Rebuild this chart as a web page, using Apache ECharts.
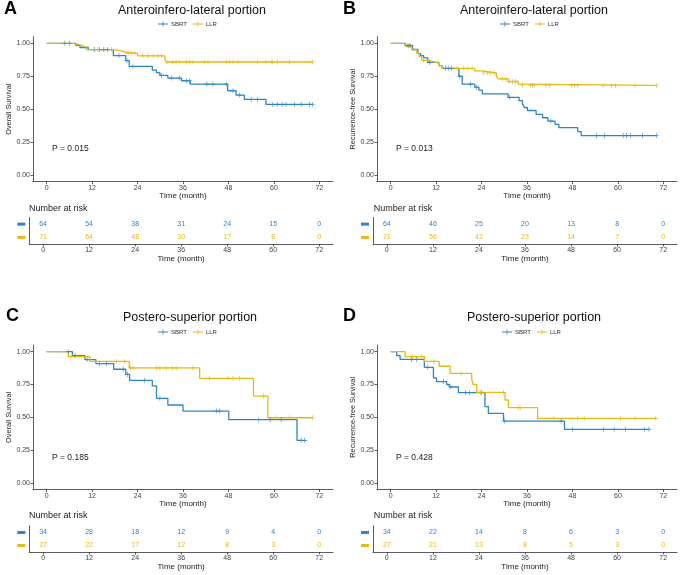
<!DOCTYPE html>
<html><head><meta charset="utf-8">
<script src="https://cdn.jsdelivr.net/npm/echarts@6/dist/echarts.min.js"></script>
<style>html,body{margin:0;padding:0;background:#fff}#c{width:685px;height:575px}</style>
</head><body><div id="c"></div>
<script>
const BLUE = '#2F86C6', YELLOW = '#E7BA12';
const groups = ['SBRT', 'LLR'];
const xTicks = [0, 12, 24, 36, 48, 60, 72];
const yTicks = [0, 0.25, 0.5, 0.75, 1];
const riskTimes = [0, 12, 24, 36, 48, 60, 72];
const titles = ['Anteroinfero-lateral portion', 'Anteroinfero-lateral portion', 'Postero-superior portion', 'Postero-superior portion'];
const letters = ['A', 'B', 'C', 'D'];
const yNames = ['Overall Survival', 'Recurrence-free Survival', 'Overall Survival', 'Recurrence-free Survival'];
const pValues = ['P = 0.015', 'P = 0.013', 'P = 0.185', 'P = 0.428'];

// Panel A: overall survival, anteroinfero-lateral
const A_SBRT_t = [0, 7.7, 8.8, 11, 17.6, 20.9, 21.8, 27.9, 29, 29.9, 32, 35.6, 37.9, 47.8, 50, 52.2, 57.9];
const A_SBRT_s = [1, 0.984, 0.968, 0.952, 0.907, 0.868, 0.825, 0.797, 0.777, 0.756, 0.736, 0.716, 0.69, 0.64, 0.607, 0.574, 0.536];
const A_SBRT_c = [4.8, 6.0, 12.7, 14, 15.1, 16.1, 19.1, 21.2, 22.8, 30.3, 32.9, 35.1, 36.9, 37.8, 42.3, 43.9, 47.4, 49.2, 50.9, 54, 55.7, 59.7, 61, 62.2, 63.2, 65.4, 67.2, 69.4, 70.2];
const A_SBRT_end = 70.2;
const A_LLR_t = [0, 7, 9, 10.5, 17.8, 20.2, 21, 24, 31.2, 31.6];
const A_LLR_s = [1, 0.986, 0.971, 0.952, 0.938, 0.93, 0.923, 0.905, 0.88, 0.858];
const A_LLR_c = [12.5, 13.5, 17.1, 21.5, 22.5, 23.3, 25.4, 26.8, 28.1, 29.4, 30.3, 32, 33.3, 34.2, 35.1, 36.9, 37.8, 38.6, 41.7, 42.6, 47.4, 48.3, 49.2, 50.5, 55.7, 57.9, 59.3, 59.7, 61, 64.1, 70.2];
const A_LLR_end = 70.2;
const A_risk_SBRT = [64, 54, 38, 31, 24, 15, 0];
const A_risk_LLR = [71, 64, 48, 30, 17, 8, 0];

// Panel B: recurrence-free survival, anteroinfero-lateral
const B_SBRT_t = [0, 3.8, 5.8, 7.2, 7.9, 8.7, 9.8, 12.7, 13.6, 18.0, 18.9, 22.2, 23.3, 24.2, 31, 33.9, 34.8, 35.3, 36.1, 38.4, 40.1, 41.5, 43.4, 44.4, 49.4, 50.3];
const B_SBRT_s = [1, 0.984, 0.953, 0.922, 0.906, 0.89, 0.855, 0.83, 0.81, 0.75, 0.69, 0.667, 0.645, 0.617, 0.59, 0.565, 0.54, 0.513, 0.49, 0.46, 0.435, 0.41, 0.385, 0.36, 0.33, 0.30];
const B_SBRT_c = [4.6, 5.1, 10.2, 14.5, 15.2, 16, 18.2, 21.1, 22.6, 31.4, 42.3, 54.3, 56.5, 61.4, 62.3, 63.3, 66.5, 70.2];
const B_SBRT_end = 70.2;
const B_LLR_t = [0, 4, 5.6, 6.9, 7.6, 8.2, 10, 11.3, 12.7, 13.6, 22.2, 24, 27.9, 28.4, 31, 33.7, 34.4];
const B_LLR_s = [1, 0.975, 0.95, 0.925, 0.90, 0.87, 0.86, 0.85, 0.83, 0.81, 0.79, 0.775, 0.75, 0.73, 0.71, 0.69, 0.68];
const B_LLR_c = [8.7, 17.5, 19.3, 20.4, 21.5, 24.6, 25.5, 26.4, 27.3, 29.5, 30.4, 31.3, 32.2, 33, 34.8, 37, 37.5, 37.9, 41, 41.9, 47.7, 48.5, 49.4, 56.1, 58.3, 59.4, 64.5, 70.2];
const B_LLR_end = 70.2;
const B_risk_SBRT = [64, 46, 25, 20, 13, 8, 0];
const B_risk_LLR = [71, 56, 42, 23, 14, 7, 0];

// Panel C: overall survival, postero-superior
const C_SBRT_t = [0, 6.8, 10.1, 13, 17.7, 20.9, 21.9, 27.9, 29, 32, 36, 48.1, 66.1];
const C_SBRT_s = [1, 0.97, 0.94, 0.909, 0.866, 0.827, 0.782, 0.739, 0.645, 0.594, 0.548, 0.482, 0.325];
const C_SBRT_c = [5.7, 7.5, 10.7, 14, 15.8, 20.2, 21.3, 25.9, 29.9, 44.8, 45.7, 56, 59, 61.9, 67.2, 68.1];
const C_SBRT_end = 68.3;
const C_LLR_t = [0, 5.7, 11.4, 21.8, 40.4, 54.6, 58.4];
const C_LLR_s = [1, 0.963, 0.926, 0.876, 0.797, 0.662, 0.497];
const C_LLR_c = [6.3, 8.8, 18.4, 20.6, 22.1, 22.8, 29, 29.9, 31.6, 33.2, 34.2, 38.6, 43, 47.9, 49.2, 50.9, 57.2, 60.6, 64.1, 70.2];
const C_LLR_end = 70.2;
const C_risk_SBRT = [34, 28, 18, 12, 9, 4, 0];
const C_risk_LLR = [27, 22, 17, 12, 8, 3, 0];

// Panel D: recurrence-free survival, postero-superior
const D_SBRT_t = [0, 1.6, 2.5, 8.9, 11.3, 12.1, 14.8, 15.5, 17.9, 24.9, 25.8, 29.8, 45.9];
const D_SBRT_s = [1, 0.971, 0.941, 0.881, 0.80, 0.772, 0.75, 0.731, 0.688, 0.581, 0.53, 0.472, 0.409];
const D_SBRT_c = [5.5, 6.9, 9.8, 13.9, 15.9, 19.8, 20.9, 24, 30, 45, 48, 56.2, 59, 62, 67, 68.2];
const D_SBRT_end = 68.2;
const D_LLR_t = [0, 3.8, 8.9, 12.8, 15.7, 21.4, 21.8, 22.7, 30.2, 31.1, 38.8];
const D_LLR_s = [1, 0.963, 0.926, 0.889, 0.835, 0.79, 0.75, 0.69, 0.632, 0.574, 0.492];
const D_LLR_c = [5.8, 8.2, 11.4, 18.6, 23.8, 29.8, 33.7, 34.2, 43.1, 49.4, 51.1, 60.7, 64.5, 70];
const D_LLR_end = 70.2;
const D_risk_SBRT = [34, 22, 14, 8, 6, 3, 0];
const D_risk_LLR = [27, 21, 13, 8, 5, 3, 0];

const curves = [
  [[A_SBRT_t, A_SBRT_s, A_SBRT_c, A_SBRT_end], [A_LLR_t, A_LLR_s, A_LLR_c, A_LLR_end]],
  [[B_SBRT_t, B_SBRT_s, B_SBRT_c, B_SBRT_end], [B_LLR_t, B_LLR_s, B_LLR_c, B_LLR_end]],
  [[C_SBRT_t, C_SBRT_s, C_SBRT_c, C_SBRT_end], [C_LLR_t, C_LLR_s, C_LLR_c, C_LLR_end]],
  [[D_SBRT_t, D_SBRT_s, D_SBRT_c, D_SBRT_end], [D_LLR_t, D_LLR_s, D_LLR_c, D_LLR_end]]
];
const risks = [[A_risk_SBRT, A_risk_LLR], [B_risk_SBRT, B_risk_LLR], [C_risk_SBRT, C_risk_LLR], [D_risk_SBRT, D_risk_LLR]];

// layout (pixels)
const layout = [
  {km: {left: 33, top: 36.7, width: 300, height: 145}, tb: {left: 29.3, top: 217.5, width: 303.7, height: 26.5}, letter: [4, 9], title: [192, 10.5], legend: [158, 21], p: [52, 148.7], nar: [29, 208.3]},
  {km: {left: 377, top: 36.7, width: 300, height: 145}, tb: {left: 373, top: 217.5, width: 304, height: 26.5}, letter: [343, 9], title: [534, 10.5], legend: [500, 21], p: [396, 148.7], nar: [373.7, 208.3]},
  {km: {left: 33, top: 345.1, width: 300, height: 144.5}, tb: {left: 29.3, top: 526, width: 303.7, height: 26}, letter: [6, 316.5], title: [190, 318], legend: [158, 329], p: [52, 457.7], nar: [29, 516]},
  {km: {left: 377, top: 345.1, width: 300, height: 144.5}, tb: {left: 373, top: 526, width: 304, height: 26}, letter: [343, 316.5], title: [534, 318], legend: [502, 329], p: [396, 457.7], nar: [373.7, 516]}
];

const colors = [BLUE, YELLOW];
const PLUS = 'path://M0,4.4h10v1.2h-10z M4.4,0h1.2v10h-1.2z';
const LEG_ICON = 'path://M0,4.2h20v1.6h-20z M9.2,0h1.6v10h-1.6z';
const AX = '#333';
const TXT = '#444';

function stepAt(t, s, x) { let v = s[0]; for (let i = 0; i < t.length; i++) if (t[i] <= x) v = s[i]; return v; }

const grid = [], xAxis = [], yAxis = [], series = [], legend = [], graphic = [];
layout.forEach((L, p) => {
  grid.push(Object.assign({}, L.km));
  grid.push(Object.assign({}, L.tb));
  const gk = p * 2, gt = p * 2 + 1;
  const xCommon = {
    type: 'value', min: -3.6, max: 75.6,
    axisLine: {show: true, onZero: false, lineStyle: {color: AX, width: 0.8}},
    axisTick: {show: true, length: 2.5, customValues: xTicks, lineStyle: {color: AX, width: 0.8}},
    axisLabel: {customValues: xTicks, fontSize: 7, color: TXT, margin: 2.5, fontFamily: 'Liberation Sans'},
    splitLine: {show: false},
    name: 'Time (month)', nameLocation: 'middle', nameGap: 10.5,
    nameTextStyle: {fontSize: 8, color: '#222', fontFamily: 'Liberation Sans'}
  };
  xAxis.push(Object.assign({gridIndex: gk}, xCommon));
  xAxis.push(Object.assign({gridIndex: gt}, xCommon, {nameGap: 10}));
  yAxis.push({
    gridIndex: gk, type: 'value', min: -0.05, max: 1.05,
    axisLine: {show: true, onZero: false, lineStyle: {color: AX, width: 0.8}},
    axisTick: {show: true, length: 2.5, customValues: yTicks, lineStyle: {color: AX, width: 0.8}},
    axisLabel: {customValues: yTicks, fontSize: 7, color: TXT, margin: 3, formatter: v => v.toFixed(2), fontFamily: 'Liberation Sans'},
    splitLine: {show: false},
    name: yNames[p], nameLocation: 'middle', nameRotate: 90, nameGap: 17,
    nameTextStyle: {fontSize: 7.3, color: '#222', fontFamily: 'Liberation Sans'}
  });
  yAxis.push({
    gridIndex: gt, type: 'category', data: ['LLR', 'SBRT'],
    axisLine: {show: true, onZero: false, lineStyle: {color: AX, width: 0.8}},
    axisTick: {show: false},
    axisLabel: {interval: 0, margin: 4, formatter: v => v === 'SBRT' ? '{b|}' : '{y|}',
      rich: {b: {backgroundColor: BLUE, width: 8, height: 3}, y: {backgroundColor: YELLOW, width: 8, height: 3}}},
    splitLine: {show: false}
  });
  curves[p].forEach((c, k) => {
    const [t, s, cen, end] = c;
    const d = t.map((x, i) => [x, s[i]]);
    d.push([end, s[s.length - 1]]);
    series.push({
      name: groups[k], type: 'line', xAxisIndex: gk, yAxisIndex: gk, data: d, step: 'end',
      symbol: 'none', color: colors[k], lineStyle: {color: colors[k], width: 1.3}, silent: true, animation: false, z: 2 + k
    });
  });
  curves[p].forEach((c, k) => {
    const [t, s, cen] = c;
    series.push({
      name: groups[k] + ' censored', type: 'scatter', xAxisIndex: gk, yAxisIndex: gk,
      data: cen.map(x => [x, stepAt(t, s, x)]), symbol: PLUS, symbolSize: 5,
      itemStyle: {color: colors[k], opacity: 1}, silent: true, animation: false, z: 4 + k
    });
  });
  risks[p].forEach((r, k) => {
    series.push({
      name: groups[k] + ' at risk', type: 'scatter', xAxisIndex: gt, yAxisIndex: gt,
      data: r.map((n, i) => [riskTimes[i], k === 0 ? 1 : 0, n]), symbolSize: 1, itemStyle: {color: 'rgba(0,0,0,0)'},
      label: {show: true, position: 'inside', formatter: q => String(q.value[2]), color: colors[k], opacity: 1, fontSize: 7, fontFamily: 'Liberation Sans'},
      silent: true, animation: false, z: 6
    });
  });
  legend.push({
    data: groups, left: L.legend[0], top: L.legend[1], orient: 'horizontal', padding: 0,
    itemWidth: 10, itemHeight: 5, itemGap: 6, icon: LEG_ICON, selectedMode: false,
    textStyle: {fontSize: 6, color: '#333', fontFamily: 'Liberation Sans', padding: [0, 0, 0, -2]}
  });
  graphic.push({type: 'text', x: L.letter[0], y: L.letter[1], style: {text: letters[p], fontSize: 18, fontWeight: 'bold', fill: '#000', fontFamily: 'Liberation Sans', align: 'left', verticalAlign: 'middle'}});
  graphic.push({type: 'text', x: L.title[0], y: L.title[1], style: {text: titles[p], fontSize: 12.5, fill: '#111', fontFamily: 'Liberation Sans', align: 'center', verticalAlign: 'middle'}});
  graphic.push({type: 'text', x: L.p[0], y: L.p[1], style: {text: pValues[p], fontSize: 8.5, fill: '#222', fontFamily: 'Liberation Sans', align: 'left', verticalAlign: 'middle'}});
  graphic.push({type: 'text', x: L.nar[0], y: L.nar[1], style: {text: 'Number at risk', fontSize: 9, fill: '#222', fontFamily: 'Liberation Sans', align: 'left', verticalAlign: 'middle'}});
});

const chart = echarts.init(document.getElementById('c'), null, {renderer: 'canvas'});
chart.setOption({
  backgroundColor: '#fff', animation: false,
  grid, xAxis, yAxis, series, legend, graphic
});
</script></body></html>
